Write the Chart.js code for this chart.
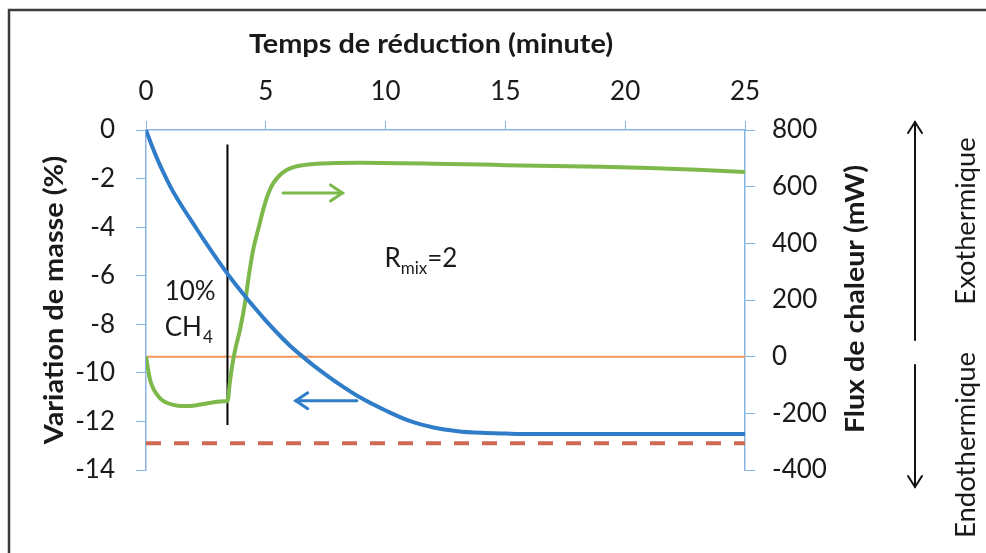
<!DOCTYPE html>
<html>
<head>
<meta charset="utf-8">
<script src="https://cdn.jsdelivr.net/npm/chart.js@4.4.1/dist/chart.umd.min.js"></script>
<style>
  html, body { margin: 0; padding: 0; background: #fff; }
  #c { display: block; }
</style>
</head>
<body>
<canvas id="c" width="986" height="553"></canvas>
<script>
// temps (minute) et variation de masse (%)
const massTime = [0, 0.25, 0.5, 0.75, 1, 1.25, 1.5, 2, 2.5, 3, 3.5, 4, 4.5, 5, 5.5, 6, 6.5, 7, 7.5, 8, 9, 10, 11, 12, 13, 14, 15, 16, 18, 20, 22, 25];
const massValues = [0, -0.66, -1.26, -1.8, -2.3, -2.74, -3.14, -3.9, -4.65, -5.37, -6.05, -6.68, -7.28, -7.85, -8.38, -8.87, -9.3, -9.7, -10.07, -10.42, -11.05, -11.55, -11.98, -12.25, -12.4, -12.47, -12.5, -12.52, -12.52, -12.52, -12.52, -12.52];

// flux de chaleur (mW)
const fluxTime = [0, 0.17, 0.35, 0.58, 0.8, 1.14, 1.5, 1.84, 2.2, 2.53, 2.9, 3.23, 3.4, 3.5, 3.6, 3.72, 3.92, 4.13, 4.3, 4.47, 4.7, 4.89, 5.1, 5.31, 5.6, 5.87, 6.2, 6.57, 7.0, 7.68, 9, 10.6, 12, 14, 15, 17, 19, 21, 23, 25];
const fluxValues = [0, -82, -120, -146, -160, -170, -174, -174, -170, -165, -160, -157, -157, -90, -30, 24, 94, 189, 290, 376, 455, 518, 575, 612, 642, 659, 670, 676, 680, 683, 684, 683, 681, 678, 676, 673, 670, 666, 660, 652];

// repères
const switchTime = [3.4, 3.4];          // passage à 10% CH4
const switchMass = [-0.6, -12.15];
const zeroTime = [0, 25];
const zeroFlux = [0, 0];
const targetTime = [0, 25];
const targetMass = [-12.9, -12.9];

const xTicks = [0, 5, 10, 15, 20, 25];
const massTicks = [0, -2, -4, -6, -8, -10, -12, -14];
const fluxTicks = [800, 600, 400, 200, 0, -200, -400];

const FONT = 'Lato, "Open Sans", sans-serif';
const axisBlue = '#86b4df';

const pts = (xs, ys) => xs.map((x, i) => ({ x: x, y: ys[i] }));

function arrow(ctx, x1, y1, x2, y2, color, width, len, half) {
  const a = Math.atan2(y2 - y1, x2 - x1);
  ctx.strokeStyle = color;
  ctx.lineWidth = width;
  ctx.lineCap = 'round';
  ctx.beginPath();
  ctx.moveTo(x1, y1);
  ctx.lineTo(x2, y2);
  ctx.stroke();
  ctx.beginPath();
  ctx.moveTo(x2 - len * Math.cos(a) + half * Math.sin(a), y2 - len * Math.sin(a) - half * Math.cos(a));
  ctx.lineTo(x2, y2);
  ctx.lineTo(x2 - len * Math.cos(a) - half * Math.sin(a), y2 - len * Math.sin(a) + half * Math.cos(a));
  ctx.stroke();
}

// texte centré, un peu élargi (police du modèle plus large que Lato)
function label(ctx, txt, x, y, font, stretch, vertical) {
  ctx.save();
  ctx.translate(x, y);
  if (vertical) ctx.rotate(-Math.PI / 2);
  ctx.scale(stretch, 1);
  ctx.font = font;
  ctx.textAlign = 'center';
  ctx.textBaseline = 'middle';
  ctx.fillText(txt, 0, 0);
  ctx.restore();
}

const decor = {
  id: 'decor',
  beforeDraw(chart) {
    const ctx = chart.ctx;
    ctx.save();
    ctx.fillStyle = '#fff';
    ctx.fillRect(0, 0, chart.width, chart.height);
    ctx.strokeStyle = '#3c3c3c';
    ctx.lineWidth = 2.5;
    ctx.beginPath();
    ctx.moveTo(9, chart.height);
    ctx.lineTo(9, 10);
    ctx.lineTo(chart.width, 10);
    ctx.stroke();
    ctx.restore();
  },
  afterDraw(chart) {
    const ctx = chart.ctx;
    const x = chart.scales.x, y = chart.scales.y, y1 = chart.scales.y1;
    ctx.save();
    ctx.fillStyle = '#1a1a1a';

    // titres des axes
    label(ctx, 'Temps de réduction (minute)', 431, 45, 'bold 26px ' + FONT, 1.11, false);
    label(ctx, 'Variation de masse (%)', 55, 300, 'bold 26px ' + FONT, 1.11, true);
    label(ctx, 'Flux de chaleur (mW)', 856, 299, 'bold 26px ' + FONT, 1.1, true);

    // exo / endo
    label(ctx, 'Exothermique', 967, 221, '26px ' + FONT, 1.05, true);
    label(ctx, 'Endothermique', 967, 445, '26px ' + FONT, 1.06, true);
    arrow(ctx, 915, 340, 915, 122, '#111', 2, 11, 7);
    arrow(ctx, 915, 365, 915, 487, '#111', 2, 11, 7);

    // annotations
    ctx.textAlign = 'left';
    ctx.textBaseline = 'alphabetic';
    ctx.font = '26px ' + FONT;
    const tx = x.getPixelForValue(0.78);
    ctx.fillText('10%', tx, 300);
    ctx.fillText('CH', tx, 336);
    const chW = ctx.measureText('CH').width;
    ctx.font = '17px ' + FONT;
    ctx.fillText('4', tx + chW + 1, 343);

    ctx.font = '26px ' + FONT;
    const rx = x.getPixelForValue(9.95);
    ctx.fillText('R', rx, 267);
    const rW = ctx.measureText('R').width;
    ctx.font = '17px ' + FONT;
    ctx.fillText('mix', rx + rW, 274);
    const mW = ctx.measureText('mix').width;
    ctx.font = '26px ' + FONT;
    ctx.fillText('=2', rx + rW + mW, 267);

    // flèches des séries
    arrow(ctx, x.getPixelForValue(5.72), y1.getPixelForValue(578),
      x.getPixelForValue(8.2), y1.getPixelForValue(578), '#7cb94a', 3, 12, 8);
    arrow(ctx, x.getPixelForValue(8.8), y.getPixelForValue(-11.15),
      x.getPixelForValue(6.25), y.getPixelForValue(-11.15), '#2f7cc8', 3, 12, 8);

    ctx.restore();
  }
};

const tickFont = { family: FONT, size: 26 };

new Chart(document.getElementById('c'), {
  type: 'line',
  data: {
    datasets: [
      {
        label: 'Variation de masse',
        data: pts(massTime, massValues),
        yAxisID: 'y',
        borderColor: '#2f7cc8',
        borderWidth: 4,
        pointRadius: 0,
        cubicInterpolationMode: 'monotone',
        order: 0
      },
      {
        label: 'Flux de chaleur',
        data: pts(fluxTime, fluxValues),
        yAxisID: 'y1',
        borderColor: '#7cb94a',
        borderWidth: 4,
        pointRadius: 0,
        cubicInterpolationMode: 'monotone',
        order: 1
      },
      {
        label: '10% CH4',
        data: pts(switchTime, switchMass),
        yAxisID: 'y',
        borderColor: '#000',
        borderWidth: 2,
        pointRadius: 0,
        order: 2
      },
      {
        label: 'cible',
        data: pts(targetTime, targetMass),
        yAxisID: 'y',
        borderColor: '#cf6a55',
        borderWidth: 4,
        borderDash: [15, 13],
        pointRadius: 0,
        order: 3
      },
      {
        label: 'zéro',
        data: pts(zeroTime, zeroFlux),
        yAxisID: 'y1',
        borderColor: '#f2975a',
        borderWidth: 2,
        pointRadius: 0,
        order: 4
      }
    ]
  },
  options: {
    responsive: false,
    animation: false,
    devicePixelRatio: 1,
    layout: { padding: { left: 0, top: 0, right: 0, bottom: 83 } },
    plugins: { legend: { display: false }, tooltip: { enabled: false } },
    scales: {
      x: {
        type: 'linear',
        position: 'top',
        min: 0,
        max: 25,
        afterBuildTicks: s => { s.ticks = xTicks.map(v => ({ value: v })); },
        ticks: { color: '#1a1a1a', font: tickFont, padding: 14, maxRotation: 0 },
        grid: { drawOnChartArea: false, tickLength: 9, color: axisBlue },
        border: { color: axisBlue, width: 1.5 },
        afterFit: s => { s.height = 130; }
      },
      y: {
        position: 'left',
        min: -14,
        max: 0,
        afterBuildTicks: s => { s.ticks = massTicks.map(v => ({ value: v })); },
        ticks: { color: '#1a1a1a', font: tickFont, padding: 21 },
        grid: { drawOnChartArea: false, tickLength: 10, color: axisBlue },
        border: { color: axisBlue, width: 1.5 },
        afterFit: s => { s.width = 146; }
      },
      y1: {
        position: 'right',
        min: -400,
        max: 800,
        afterBuildTicks: s => { s.ticks = fluxTicks.map(v => ({ value: v })); },
        ticks: { color: '#1a1a1a', font: tickFont, padding: 17 },
        grid: { drawOnChartArea: false, tickLength: 10, color: axisBlue },
        border: { color: axisBlue, width: 1.5 },
        afterFit: s => { s.width = 241; }
      }
    }
  },
  plugins: [decor]
});
</script>
</body>
</html>
